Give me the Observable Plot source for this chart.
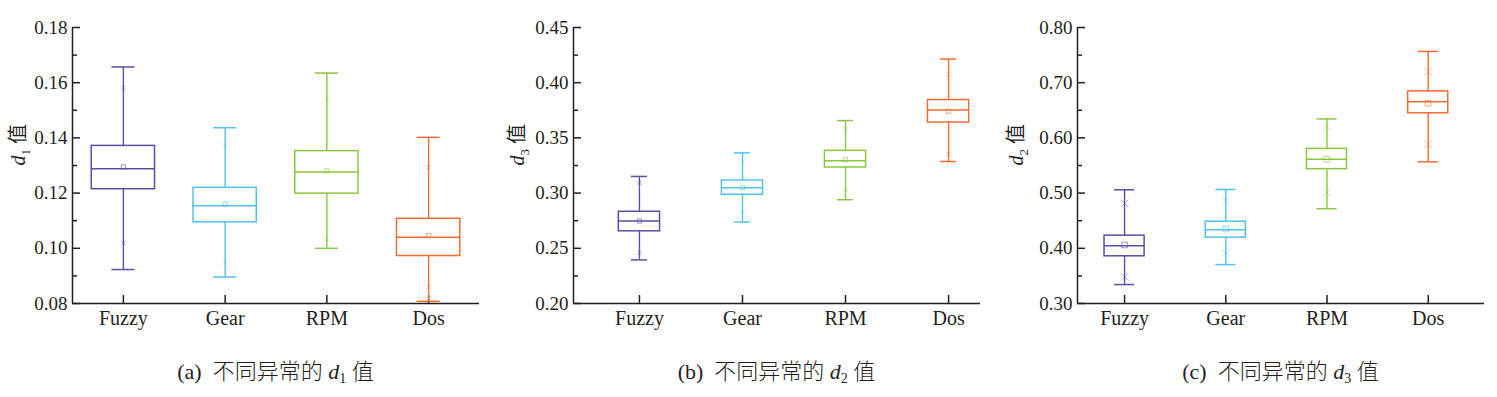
<!DOCTYPE html>
<html>
<head>
<meta charset="utf-8">
<script src="https://cdn.jsdelivr.net/npm/d3@7"></script>
<script src="https://cdn.jsdelivr.net/npm/@observablehq/plot@0.6"></script>
<style>
  html, body { margin: 0; padding: 0; background: #fff; }
  #wrap { display: flex; width: 1497px; height: 397px; overflow: hidden; }
  .panel { width: 499px; }
  .cap { font-family: "Liberation Serif", "Noto Sans CJK SC", serif; font-size: 22px; line-height: 26px;
         margin-top: 19px; text-align: center; color: #231f20; box-sizing: border-box; white-space: pre; }
  .cap sub { font-size: 14px; vertical-align: -4px; line-height: 0; }
  .cap .cj { font-weight: 300; }
</style>
</head>
<body>
<div id="wrap"></div>
<script>
const categories = ["Fuzzy", "Gear", "RPM", "Dos"];
const colors = ["#5b4fa5", "#4fc3ec", "#8cc63f", "#f36c34"];

// panel (a)
const aMin  = [0.0923, 0.0896, 0.1000, 0.0808];
const aQ1   = [0.1214, 0.1094, 0.1198, 0.0972];
const aMed  = [0.1288, 0.1154, 0.1276, 0.1040];
const aQ3   = [0.1371, 0.1219, 0.1352, 0.1107];
const aMax  = [0.1657, 0.1437, 0.1635, 0.1402];
const aMean = [0.1295, 0.1160, 0.1281, 0.1046];
const aHi   = [0.1581, 0.1372, 0.1540, 0.1293];
const aLo   = [0.1019, 0.0949, 0.1031, 0.0861];
const aTicks = [0.08, 0.10, 0.12, 0.14, 0.16, 0.18];
const aMinor = [0.09, 0.11, 0.13, 0.15, 0.17];

// panel (b)
const bMin  = [0.2395, 0.2738, 0.2940, 0.3286];
const bQ1   = [0.2654, 0.2985, 0.3232, 0.3639];
const bMed  = [0.2747, 0.3048, 0.3292, 0.3753];
const bQ3   = [0.2831, 0.3114, 0.3383, 0.3843];
const bMax  = [0.3151, 0.3364, 0.3657, 0.4214];
const bMean = [0.2747, 0.3048, 0.3301, 0.3741];
const bHi   = [0.3093, 0.3289, 0.3578, 0.4075];
const bLo   = [0.2461, 0.2831, 0.3030, 0.3352];
const bTicks = [0.20, 0.25, 0.30, 0.35, 0.40, 0.45];
const bMinor = [0.225, 0.275, 0.325, 0.375, 0.425];

// panel (c)
const cMin  = [0.3343, 0.3705, 0.4717, 0.5566];
const cQ1   = [0.3855, 0.4193, 0.5434, 0.6446];
const cMed  = [0.4048, 0.4337, 0.5614, 0.6657];
const cQ3   = [0.4229, 0.4482, 0.5801, 0.6843];
const cMax  = [0.5060, 0.5066, 0.6343, 0.7566];
const cMean = [0.4060, 0.4350, 0.5614, 0.6627];
const cHi   = [0.4813, 0.4867, 0.6211, 0.7199];
const cLo   = [0.3482, 0.3916, 0.5006, 0.5886];
const cTicks = [0.30, 0.40, 0.50, 0.60, 0.70, 0.80];
const cMinor = [0.35, 0.45, 0.55, 0.65, 0.75];

const panels = [
  {min: aMin, q1: aQ1, med: aMed, q3: aQ3, max: aMax, mean: aMean, hi: aHi, lo: aLo,
   ticks: aTicks, minor: aMinor, ylab: "1", cap: "(a)", capSub: "1",
   ml: 72, mr: 20, xd: [0.5, 4.5], bw: 0.311, cw: 0.113, sq: 2.4, xr: 2.2},
  {min: bMin, q1: bQ1, med: bMed, q3: bQ3, max: bMax, mean: bMean, hi: bHi, lo: bLo,
   ticks: bTicks, minor: bMinor, ylab: "3", cap: "(b)", capSub: "2",
   ml: 74, mr: 18, xd: [0.36, 4.31], bw: 0.2, cw: 0.078, sq: 2.4, xr: 2.2},
  {min: cMin, q1: cQ1, med: cMed, q3: cQ3, max: cMax, mean: cMean, hi: cHi, lo: cLo,
   ticks: cTicks, minor: cMinor, ylab: "2", cap: "(c)", capSub: "3",
   ml: 79, mr: 13, xd: [0.535, 4.556], bw: 0.198, cw: 0.099, sq: 3.2, xr: 3.6}
];

const W = 499, H = 340, MT = 27, MB = 37;
const AX = "#231f20";
const SERIF = "'Liberation Serif', 'Times New Roman', serif";

const wrap = document.getElementById("wrap");
for (const p of panels) {
  const rows = categories.map((c, k) => ({
    cat: c, i: k + 1, color: colors[k],
    min: p.min[k], q1: p.q1[k], med: p.med[k], q3: p.q3[k], max: p.max[k],
    mean: p.mean[k], hi: p.hi[k], lo: p.lo[k]
  }));
  const plotW = W - p.ml - p.mr, plotH = H - MT - MB;
  const ymin = p.ticks[0], ymax = p.ticks[p.ticks.length - 1];
  const ylabText = "d" + p.ylab + " 值";
  const chart = Plot.plot({
    width: W, height: H, marginLeft: p.ml, marginRight: p.mr, marginTop: MT, marginBottom: MB,
    style: {fontFamily: SERIF, background: "white", color: AX, overflow: "visible"},
    x: {domain: p.xd},
    y: {domain: [ymin, ymax]},
    color: {type: "identity"},
    marks: [
      Plot.axisY(p.ticks, {tickSize: 0, tickPadding: 5, tickFormat: d => d.toFixed(2), fontSize: 19, fill: AX, label: null}),
      Plot.axisX([1, 2, 3, 4], {tickSize: 0, tickPadding: 7, tickFormat: i => categories[i - 1], fontSize: 20, fill: AX, label: null}),
      Plot.tickY(p.ticks, {y: d => d, insetRight: plotW - 8, stroke: AX, strokeWidth: 1.5}),
      Plot.tickY(p.minor, {y: d => d, insetRight: plotW - 5, stroke: AX, strokeWidth: 1.5}),
      Plot.tickX([1, 2, 3, 4], {x: d => d, insetTop: plotH - 8, stroke: AX, strokeWidth: 1.5}),
      Plot.ruleX([p.xd[0]], {stroke: AX, strokeWidth: 1.5}),
      Plot.ruleY([ymin], {stroke: AX, strokeWidth: 1.5}),
      // whiskers
      Plot.ruleX(rows, {x: "i", y1: "q3", y2: "max", stroke: "color", strokeWidth: 1.4}),
      Plot.ruleX(rows, {x: "i", y1: "min", y2: "q1", stroke: "color", strokeWidth: 1.4}),
      // caps
      Plot.ruleY(rows, {y: "max", x1: d => d.i - p.cw, x2: d => d.i + p.cw, stroke: "color", strokeWidth: 1.5}),
      Plot.ruleY(rows, {y: "min", x1: d => d.i - p.cw, x2: d => d.i + p.cw, stroke: "color", strokeWidth: 1.5}),
      // boxes
      Plot.rect(rows, {x1: d => d.i - p.bw, x2: d => d.i + p.bw, y1: "q1", y2: "q3", fill: "none", stroke: "color", strokeWidth: 1.5}),
      Plot.ruleY(rows, {y: "med", x1: d => d.i - p.bw, x2: d => d.i + p.bw, stroke: "color", strokeWidth: 1.5}),
      // mean and extremes
      Plot.dot(rows, {x: "i", y: "mean", symbol: "square", r: p.sq, stroke: "color", strokeOpacity: 0.6, strokeWidth: 1, fill: "none"}),
      Plot.dot(rows, {x: "i", y: "hi", symbol: "times", r: p.xr, stroke: "color", strokeOpacity: 0.45, strokeWidth: 1}),
      Plot.dot(rows, {x: "i", y: "lo", symbol: "times", r: p.xr, stroke: "color", strokeOpacity: 0.45, strokeWidth: 1}),
      // y label
      Plot.text([ylabText], {frameAnchor: "left", dx: -(p.ml - 18), rotate: -90, fontSize: 20, fill: AX,
                             fontFamily: "'Liberation Serif', 'Noto Sans CJK SC', serif"})
    ]
  });
  chart.querySelectorAll("text").forEach(t => {
    if (t.textContent === ylabText) {
      t.innerHTML = '<tspan font-style="italic">d</tspan><tspan dy="5" font-size="13">' + p.ylab +
                    '</tspan><tspan dy="-5"> 值</tspan>';
    }
  });
  const div = document.createElement("div");
  div.className = "panel";
  div.appendChild(chart);
  const cap = document.createElement("div");
  cap.className = "cap";
  cap.style.paddingLeft = p.ml + "px";
  cap.style.paddingRight = p.mr + "px";
  cap.innerHTML = p.cap + '  <span class="cj">不同异常的</span> <i>d</i><sub>' + p.capSub + '</sub> <span class="cj">值</span>';
  div.appendChild(cap);
  wrap.appendChild(div);
}
</script>
</body>
</html>
